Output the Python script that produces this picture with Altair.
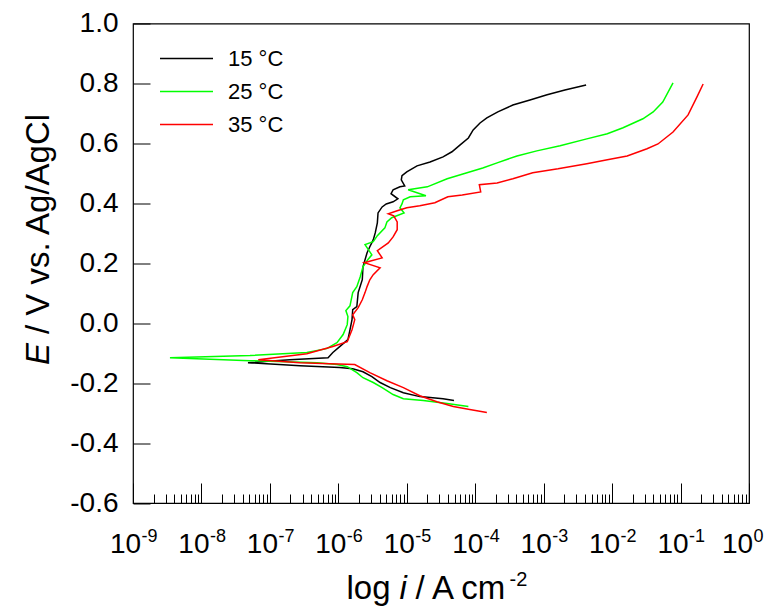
import altair as alt
import pandas as pd

FONT = "Liberation Sans"

temps = ["15 °C", "25 °C", "35 °C"]
colors = ["#000000", "#00ff00", "#ff0000"]

# log10(i / A cm-2) and E / V, cathodic branch then anodic branch
log_i_15 = [-4.31, -4.47, -4.81, -5.05, -5.24, -5.39, -5.51, -5.64, -5.79, -5.98, -6.56, -7.32,
            -6.71, -6.15, -6.08, -5.98, -5.86, -5.83, -5.80, -5.79, -5.73, -5.71,
            -5.65, -5.64, -5.58, -5.54, -5.49, -5.46, -5.43, -5.42, -5.36, -5.30,
            -5.20, -5.13, -5.23, -5.20, -5.10, -5.03, -5.08, -5.07, -5.00, -4.85,
            -4.66, -4.47, -4.34, -4.22, -4.10, -4.03, -3.93, -3.83, -3.67, -3.45,
            -3.20, -2.95, -2.69, -2.38]
E_15 = [-0.258, -0.252, -0.245, -0.232, -0.215, -0.198, -0.178, -0.162, -0.152, -0.148, -0.142, -0.132,
        -0.122, -0.115, -0.098, -0.078, -0.055, -0.022, 0.012, 0.045, 0.055, 0.102,
        0.145, 0.188, 0.235, 0.255, 0.278, 0.302, 0.335, 0.368, 0.388, 0.398,
        0.405, 0.415, 0.432, 0.445, 0.455, 0.458, 0.478, 0.492, 0.505, 0.525,
        0.538, 0.555, 0.572, 0.595, 0.618, 0.645, 0.668, 0.685, 0.705, 0.728,
        0.745, 0.762, 0.778, 0.795]

log_i_25 = [-4.10, -4.41, -4.76, -5.05, -5.20, -5.36, -5.49, -5.64, -5.73, -5.87, -6.02, -6.31, -7.29, -8.46,
            -7.29, -6.46, -6.17, -6.02, -5.93, -5.87, -5.86, -5.89, -5.83, -5.79,
            -5.73, -5.68, -5.64, -5.57, -5.51, -5.61, -5.49, -5.43, -5.32, -5.29,
            -5.22, -5.04, -5.10, -5.07, -5.05, -4.95, -4.72, -4.98, -4.70, -4.41,
            -4.12, -3.89, -3.68, -3.39, -3.10, -2.76, -2.37, -2.07, -1.84, -1.55,
            -1.40, -1.26, -1.11]
E_25 = [-0.278, -0.268, -0.258, -0.252, -0.238, -0.215, -0.198, -0.182, -0.165, -0.145, -0.138, -0.132, -0.125, -0.115,
        -0.108, -0.098, -0.085, -0.065, -0.038, -0.005, 0.022, 0.042, 0.058, 0.102,
        0.122, 0.155, 0.188, 0.212, 0.228, 0.262, 0.272, 0.292, 0.318, 0.338,
        0.352, 0.368, 0.385, 0.398, 0.412, 0.422, 0.425, 0.445, 0.455, 0.482,
        0.502, 0.518, 0.535, 0.558, 0.575, 0.592, 0.615, 0.632, 0.652, 0.682,
        0.705, 0.738, 0.802]

log_i_35 = [-3.83, -4.08, -4.32, -4.56, -4.81, -5.05, -5.29, -5.54, -5.76, -6.12, -6.56, -7.17,
            -6.46, -6.08, -5.87, -5.80, -5.76, -5.79, -5.71, -5.65, -5.61, -5.58,
            -5.54, -5.49, -5.39, -5.62, -5.36, -5.43, -5.27, -5.20, -5.14, -5.14,
            -5.19, -5.27, -5.14, -5.00, -4.81, -4.59, -4.40, -4.19, -3.92, -3.94,
            -3.68, -3.45, -3.16, -2.79, -2.37, -2.07, -1.78, -1.49, -1.33, -1.11,
            -0.89, -0.76, -0.67]
E_35 = [-0.298, -0.288, -0.278, -0.262, -0.242, -0.215, -0.192, -0.165, -0.138, -0.135, -0.132, -0.122,
        -0.102, -0.078, -0.062, -0.022, 0.012, 0.028, 0.052, 0.078, 0.102, 0.122,
        0.145, 0.162, 0.185, 0.202, 0.218, 0.242, 0.268, 0.288, 0.312, 0.338,
        0.358, 0.365, 0.375, 0.385, 0.392, 0.402, 0.422, 0.428, 0.438, 0.462,
        0.468, 0.482, 0.502, 0.515, 0.532, 0.545, 0.558, 0.582, 0.598, 0.638,
        0.695, 0.755, 0.798]

y_ticks = [-0.6, -0.4, -0.2, 0.0, 0.2, 0.4, 0.6, 0.8, 1.0]
x_exponents = list(range(-9, 1))

rows = []
for t, li, ee in zip(temps, [log_i_15, log_i_25, log_i_35], [E_15, E_25, E_35]):
    for k, (a, b) in enumerate(zip(li, ee)):
        rows.append({"T": t, "i": 10.0 ** a, "E": b, "k": k})
df = pd.DataFrame(rows)

major = [10.0 ** n for n in x_exponents]
minor = [m * 10.0 ** n for n in x_exponents[:-1] for m in range(2, 10)]

xscale = alt.Scale(type="log", domain=[1e-9, 1], nice=False)
yscale = alt.Scale(domain=[-0.6, 1.0], nice=False, zero=False)

TS = 33  # title font size
common_title = dict(titleFont=FONT, titleFontSize=TS, titleFontWeight="normal",
                    titleColor="black", titleAlign="left", titleBaseline="alphabetic")

# Layer 1: curves, major x ticks, y labels
l1 = alt.Chart(df).mark_line(strokeWidth=1.5).encode(
    x=alt.X("i:Q", scale=xscale, axis=alt.Axis(
        orient="bottom", values=major, labels=False, ticks=True,
        tickSize={"expr": "-20"}, tickColor="black", tickWidth=1,
        domain=False, grid=False, title="log", titleX=213, titleY=95, **common_title)),
    y=alt.Y("E:Q", scale=yscale, axis=alt.Axis(
        orient="left", values=y_ticks, ticks=False, domain=False, grid=False,
        labelExpr="(datum.value < -0.00001 ? '-' : '') + format(abs(datum.value), '.1f')",
        labelFont=FONT, labelFontSize=28, labelColor="black", labelPadding=15,
        labelBaseline="middle",
        title="/ V vs. Ag/AgCl", titleAngle=270, titleX=-85, titleY=310, **common_title)),
    color=alt.Color("T:N", scale=alt.Scale(domain=temps, range=colors), legend=alt.Legend(
        orient="none", legendX=26, legendY=24, title=None, symbolType="stroke",
        symbolSize=2809, symbolStrokeWidth=1.5, labelFont=FONT, labelFontSize=22,
        labelColor="black", labelOffset=14, clipHeight=22, rowPadding=11, padding=0)),
    order="k:Q",
)

# Layer 2: minor x ticks, y ticks, italic title pieces
l2 = alt.Chart(df).mark_point(opacity=0).encode(
    x=alt.X("i:Q", scale=xscale, axis=alt.Axis(
        orient="bottom", values=minor, labels=False, ticks=True,
        tickSize={"expr": "-9"}, tickColor="black", tickWidth=1,
        domain=False, grid=False, title="i", titleFontStyle="italic",
        titleX=266, titleY=95, **common_title)),
    y=alt.Y("E:Q", scale=yscale, axis=alt.Axis(
        orient="left", values=y_ticks, labels=False, ticks=True,
        tickSize={"expr": "-17"}, tickColor="black", tickWidth=1,
        domain=False, grid=False, title="E", titleFontStyle="italic",
        titleAngle=270, titleX=-85, titleY=341, **common_title)),
)

# Layer 3: "10" labels
l3 = alt.Chart(df).mark_point(opacity=0).encode(
    x=alt.X("i:Q", scale=xscale, axis=alt.Axis(
        orient="bottom", values=major, ticks=False, domain=False, grid=False,
        labelExpr="'10'", labelFont=FONT, labelFontSize=28, labelColor="black",
        labelPadding=49, labelBaseline="alphabetic", labelAlign="center",
        labelOffset={"condition": {"test": "datum.value > 0.5", "value": -12}, "value": -8},
        labelFlush=False, labelOverlap=False,
        title="/ A cm", titleX=282, titleY=95, **common_title)),
    y=alt.Y("E:Q", scale=yscale, axis=None),
)

# Layer 4: exponent labels
l4 = alt.Chart(df).mark_point(opacity=0).encode(
    x=alt.X("i:Q", scale=xscale, axis=alt.Axis(
        orient="bottom", values=major, ticks=False, domain=False, grid=False,
        labelExpr="'' + round(log(datum.value) / LN10)", labelFont=FONT,
        labelFontSize=18, labelColor="black", labelPadding=38,
        labelBaseline="alphabetic", labelAlign="left",
        labelOffset={"condition": {"test": "datum.value > 0.5", "value": 4}, "value": 8},
        labelFlush=False, labelOverlap=False,
        title="-2", titleX=376, titleY=82,
        titleFont=FONT, titleFontSize=20, titleFontWeight="normal",
        titleColor="black", titleAlign="left", titleBaseline="alphabetic")),
    y=alt.Y("E:Q", scale=yscale, axis=None),
)

chart = alt.layer(l1, l2, l3, l4).resolve_axis(
    x="independent", y="independent"
).properties(
    width=616, height=479.5,
    autosize=alt.AutoSizeParams(type="none"),
    padding={"left": 125, "top": 15.5, "right": 16, "bottom": 103},
).configure(font=FONT).configure_view(stroke="black", strokeWidth=1.2)

chart.save("out.html", embed_options={"renderer": "svg", "actions": False})
